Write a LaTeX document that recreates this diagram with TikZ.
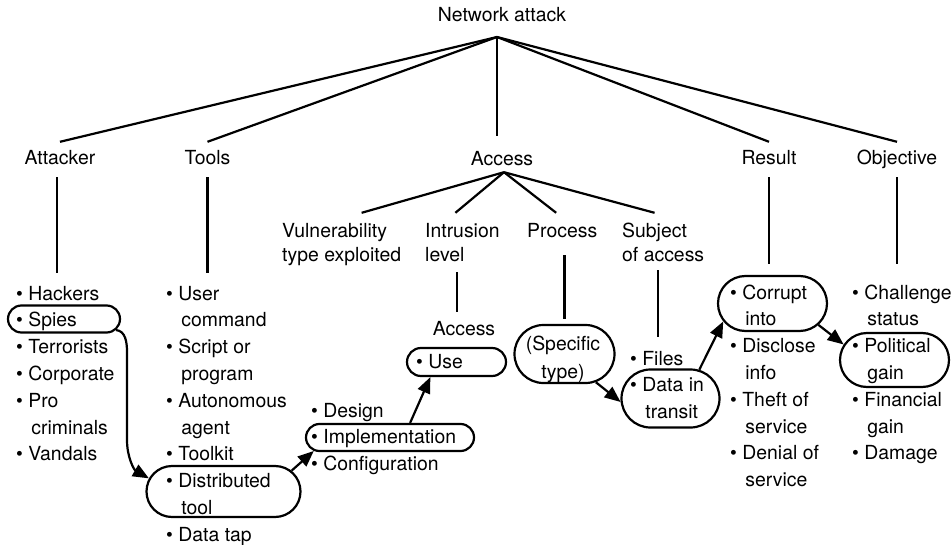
\documentclass[tikz,border=0pt]{standalone}
\usepackage{fontspec}
\setmainfont{TeX Gyre Heros}
\usetikzlibrary{arrows.meta,shapes.misc}

% bullet for a list entry, and the indent of a wrapped entry
\newcommand\bitem{\textbullet\ }
\newcommand\bcont{\hphantom{\textbullet\ }\hspace{3pt}}

\tikzset{
  lbl/.style={font=\fontsize{19.4pt}{24pt}\selectfont, inner sep=0pt,
              text height=14pt, text depth=4pt},
  txt/.style={lbl, anchor=base west},
  ctr/.style={lbl, anchor=base},
  pill/.style={draw, rounded rectangle, line width=2.2pt, inner sep=0pt},
  branch/.style={line width=2.2pt},
  arr/.style={line width=2.2pt, -{Triangle[length=16pt,width=13pt]}},
}

% one column of list entries: name, left x, centre y of first line, entries
\newcommand\itemcol[4]{%
  \foreach \t [count=\i] in {#4}
    \node[txt] (#1-\i) at (#2, #3+\i*26.8-26.8+7) {\t};%
}

\begin{document}
\begin{tikzpicture}[x=1pt, y=-1pt]
\useasboundingbox (0,0) rectangle (952,545);

% ---- top level ----
\node[ctr] (net) at (502,22) {Network attack};
\coordinate (apex) at (497,37);

\node[ctr] (attacker)  at (60,165)   {Attacker};
\node[ctr] (tools)     at (207.5,165) {Tools};
\node[ctr] (access)    at (502,166)  {Access};
\node[ctr] (result)    at (769,165)  {Result};
\node[ctr] (objective) at (897,165)  {Objective};

\draw[branch] (apex) -- ([yshift=9pt]attacker.north);
\draw[branch] (apex) -- ([yshift=9pt]tools.north);
\draw[branch] (apex) -- ([yshift=16pt]apex |- access.north);
\draw[branch] (apex) -- ([yshift=9pt]result.north);
\draw[branch] (apex) -- ([yshift=9pt]objective.north);

% ---- access sub-categories ----
\node[txt] (vuln1) at (282,237) {Vulnerability};
\node[txt] (vuln2) at (282,261) {type exploited};
\node[txt] (intr1) at (425,237) {Intrusion};
\node[txt] (intr2) at (425,261) {level};
\node[txt] (proc)  at (527,237) {Process};
\node[txt] (subj1) at (622,237) {Subject};
\node[txt] (subj2) at (622,261) {of access};

\coordinate (accapex) at ([xshift=2pt,yshift=-2pt]access.south);
\draw[branch] (accapex) -- ([xshift=27pt,yshift=10pt]vuln1.north);
\draw[branch] (accapex) -- ([xshift=-7pt,yshift=10pt]intr1.north);
\draw[branch] (accapex) -- ([xshift=-6pt,yshift=10pt]proc.north);
\draw[branch] (accapex) -- ([yshift=10pt]subj1.north);

% ---- rounded boxes ----
\node[pill, minimum width=112pt, minimum height=27pt] (spies)   at (64,319)      {};
\node[pill, minimum width=154pt, minimum height=51pt] (dist)    at (223.5,491.5) {};
\node[pill, minimum width=168pt, minimum height=27pt] (impl)    at (390,437.5)   {};
\node[pill, minimum width=99pt,  minimum height=28pt] (use)     at (456.5,362)   {};
\node[pill, minimum width=100pt, minimum height=58pt] (spec)    at (564.5,354)   {};
\node[pill, minimum width=98pt,  minimum height=58pt] (data)    at (670.5,398.5) {};
\node[pill, minimum width=109pt, minimum height=55pt] (corrupt) at (772.5,303.5) {};
\node[pill, minimum width=109pt, minimum height=54pt] (pol)     at (894.5,360)   {};

% ---- lists ----
\itemcol{att}{16}{293}{\bitem Hackers, \bitem Spies, \bitem Terrorists,
  \bitem Corporate, \bitem Pro, \bcont criminals, \bitem Vandals}
\itemcol{tool}{166}{293}{\bitem User, \bcont command, \bitem Script or,
  \bcont program, \bitem Autonomous, \bcont agent, \bitem Toolkit,
  \bitem Distributed, \bcont tool, \bitem Data tap}
\itemcol{vul}{311}{410}{\bitem Design, \bitem Implementation, \bitem Configuration}
\node[ctr] (acc2) at (464,335) {Access};
\itemcol{lvl}{416}{361}{\bitem Use}
\node[ctr] (spec1) at (563,350) {(Specific};
\node[ctr] (spec2) at (563,378) {type)};
\itemcol{sub}{630}{358}{\bitem Files, \bitem Data in, \bcont transit}
\itemcol{res}{730}{292}{\bitem Corrupt, \bcont into, \bitem Disclose,
  \bcont info, \bitem Theft of, \bcont service, \bitem Denial of, \bcont service}
\itemcol{obj}{852}{292}{\bitem Challenge, \bcont status, \bitem Political,
  \bcont gain, \bitem Financial, \bcont gain, \bitem Damage}

% ---- vertical stems down to the lists ----
\draw[branch] ([xshift=-3pt,yshift=-8pt]attacker.south) -- ([xshift=-3pt,yshift=13pt]attacker.south |- att-1.north);
\draw[branch] ([yshift=-8pt]tools.south) -- ([yshift=13pt]tools.south |- tool-1.north);
\draw[branch] ([xshift=-7pt,yshift=9pt]acc2.north) -- ([xshift=-7pt,yshift=-7pt]acc2.north |- intr2.south);
\draw[branch] ([yshift=5pt]spec.north) -- ([yshift=-14pt]spec.north |- proc.south);
\draw[branch] ([xshift=-5pt,yshift=-5pt]subj2.south) -- ([xshift=-5pt,yshift=14pt]subj2.south |- sub-1.north);
\draw[branch] ([yshift=-8pt]result.south) -- ([yshift=11pt]result.south |- corrupt.north);
\draw[branch] ([yshift=-8pt]objective.south) -- ([yshift=21pt]objective.south |- obj-1.north);

% ---- arrows between the boxed items ----
\draw[arr] (spies.-12) to[out=-5,in=90] (127,352) -- (127,440) to[out=-90,in=150] (dist.170);
\draw[arr] (dist.17) -- (impl.190);
\draw[arr] (impl.36) -- (use.210);
\draw[arr] (spec.-42) -- (data.184);
\draw[arr] (data.45) -- (corrupt.200);
\draw[arr] (corrupt.-25) -- (pol.163);
\end{tikzpicture}
\end{document}
